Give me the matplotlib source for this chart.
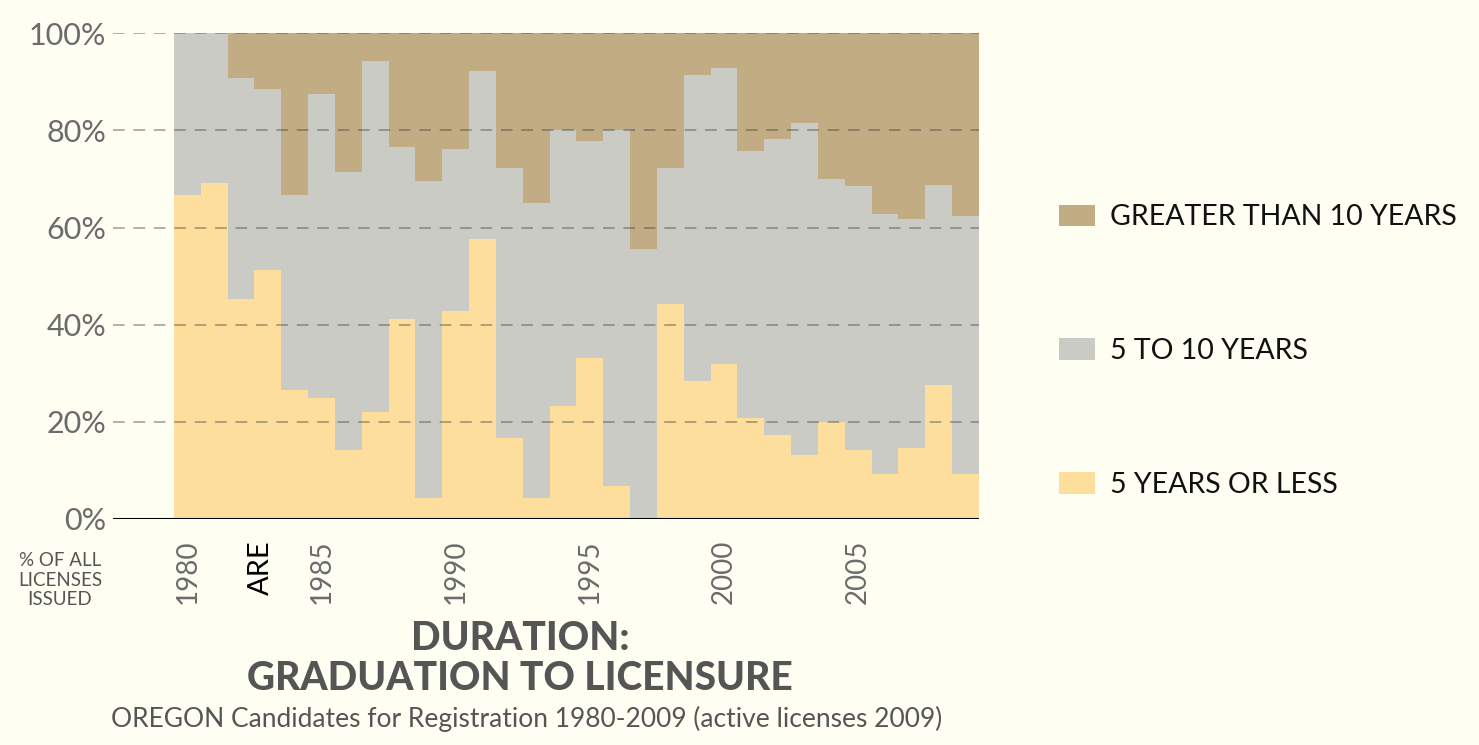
import matplotlib.pyplot as plt
from matplotlib import rcParams

rcParams['font.family'] = ['Lato', 'DejaVu Sans']

# data (percent of licenses issued)
years = list(range(1980, 2010))
le5 = [66.7, 69.2, 45.3, 51.3, 26.5, 24.9, 14.2, 22.0, 41.2, 4.3,
       42.8, 57.7, 16.6, 4.3, 23.2, 33.1, 6.7, 0.0, 44.3, 28.5,
       31.9, 20.7, 17.3, 13.1, 19.9, 14.2, 9.2, 14.6, 27.5, 9.2]
le10 = [100.0, 100.0, 90.8, 88.5, 66.7, 87.5, 71.4, 94.3, 76.5, 69.6,
        76.2, 92.3, 72.3, 65.1, 80.0, 77.8, 80.0, 55.5, 72.3, 91.4,
        92.9, 75.8, 78.2, 81.5, 70.0, 68.5, 62.7, 61.7, 68.8, 62.4]
mid = [b - a for a, b in zip(le5, le10)]
gt10 = [100.0 - b for b in le10]

labels = ["5 YEARS OR LESS", "5 TO 10 YEARS", "GREATER THAN 10 YEARS"]
colors = ["#FDDE9C", "#CBCBC6", "#C2AC84"]
yticks = [0, 20, 40, 60, 80, 100]
ytick_labels = ["0%", "20%", "40%", "60%", "80%", "100%"]
xticks = [1980, 1985, 1990, 1995, 2000, 2005]

bg = "#FFFEF3"
fig = plt.figure(figsize=(14.79, 7.45), dpi=100, facecolor=bg)
ax = fig.add_axes([113/1479, 1-519/745, (979-113)/1479, (519-33.3)/745])
ax.set_facecolor(bg)

b1 = ax.bar(years, le5, width=1.0, color=colors[0], linewidth=0, label=labels[0])
b2 = ax.bar(years, mid, width=1.0, bottom=le5, color=colors[1], linewidth=0, label=labels[1])
b3 = ax.bar(years, gt10, width=1.0, bottom=le10, color=colors[2], linewidth=0, label=labels[2])

ax.set_xlim(1977.23, 2009.5)
ax.set_ylim(0, 100)

for s in ax.spines.values():
    s.set_visible(False)
ax.axhline(0, color='black', linewidth=2.2, zorder=5)

ax.set_axisbelow(False)
ax.yaxis.grid(True, color='#444444', alpha=0.42, linewidth=1.4, linestyle=(0, (6, 4.5)))
ax.set_yticks(yticks)
ax.set_yticklabels(ytick_labels, fontsize=22, color='#6b6b6b')
ax.tick_params(axis='y', length=0, pad=5)

ax.set_xticks(xticks)
ax.set_xticklabels([str(x) for x in xticks], rotation=90, fontsize=20, color='#6b6b6b', va='top')
ax.tick_params(axis='x', length=0, pad=15)

ax.text(1982.75, -4.5, "ARE", rotation=90, ha='center', va='top', fontsize=21, color='black')

fig.text(60/1479, 1-580/745, "% OF ALL\nLICENSES\nISSUED", ha='center', va='center',
         fontsize=13.5, color='#555555', linespacing=1.15)

fig.text(520/1479, 1-639/745, "DURATION:", ha='center', va='center', fontsize=28,
         fontweight='black', color='#555555')
fig.text(520/1479, 1-679/745, "GRADUATION TO LICENSURE", ha='center', va='center', fontsize=28,
         fontweight='black', color='#555555')
fig.text(527/1479, 1-719/745, "OREGON Candidates for Registration 1980-2009 (active licenses 2009)",
         ha='center', va='center', fontsize=19, color='#555555')

fig.legend([b3, b2, b1], [labels[2], labels[1], labels[0]], loc='center left',
           bbox_to_anchor=(1059/1479, 1-351/745), frameon=False, fontsize=20.5,
           handlelength=1.25, handleheight=0.8, handletextpad=0.55,
           labelspacing=3.78, borderpad=0, borderaxespad=0, labelcolor='#111111')

plt.savefig("out.png", facecolor=bg)
